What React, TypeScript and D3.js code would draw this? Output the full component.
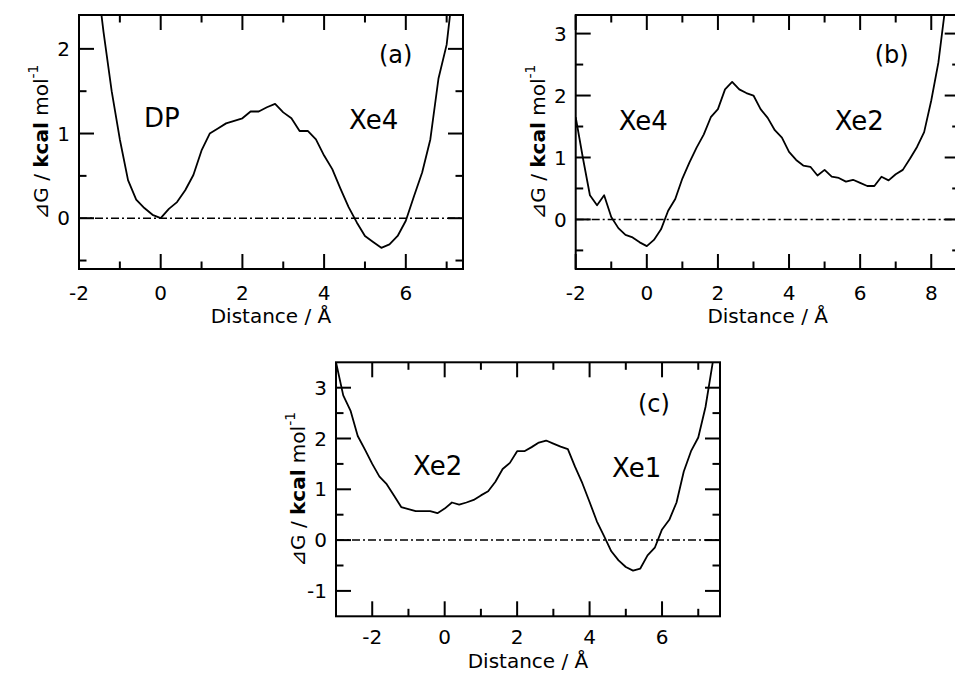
import * as d3 from "d3";
import React from "react";

// panel (a): DP -> Xe4
const distA = [-1.6, -1.4, -1.2, -1.0, -0.8, -0.6, -0.4, -0.2, 0.0, 0.2, 0.4, 0.6, 0.8, 1.0, 1.2, 1.4, 1.6, 1.8, 2.0, 2.2, 2.4, 2.6, 2.8, 3.0, 3.2, 3.4, 3.6, 3.8, 4.0, 4.2, 4.4, 4.6, 4.8, 5.0, 5.2, 5.4, 5.6, 5.8, 6.0, 6.2, 6.4, 6.6, 6.8, 7.0, 7.2];
const dgA = [3.0, 2.2, 1.5, 0.93, 0.45, 0.22, 0.12, 0.04, 0.0, 0.11, 0.19, 0.33, 0.51, 0.8, 1.0, 1.06, 1.12, 1.15, 1.18, 1.26, 1.26, 1.31, 1.35, 1.25, 1.18, 1.03, 1.03, 0.93, 0.74, 0.58, 0.35, 0.13, -0.05, -0.21, -0.28, -0.35, -0.31, -0.21, -0.03, 0.26, 0.54, 0.93, 1.65, 2.05, 2.9];

// panel (b): Xe4 -> Xe2
const distB = [-2.0, -1.8, -1.6, -1.4, -1.2, -1.0, -0.8, -0.6, -0.4, -0.2, 0.0, 0.2, 0.4, 0.6, 0.8, 1.0, 1.2, 1.4, 1.6, 1.8, 2.0, 2.2, 2.4, 2.6, 2.8, 3.0, 3.2, 3.4, 3.6, 3.8, 4.0, 4.2, 4.4, 4.6, 4.8, 5.0, 5.2, 5.4, 5.6, 5.8, 6.0, 6.2, 6.4, 6.6, 6.8, 7.0, 7.2, 7.4, 7.6, 7.8, 8.0, 8.2, 8.4];
const dgB = [1.65, 1.0, 0.39, 0.23, 0.39, 0.04, -0.14, -0.25, -0.29, -0.37, -0.43, -0.33, -0.16, 0.14, 0.33, 0.66, 0.92, 1.16, 1.37, 1.65, 1.78, 2.1, 2.22, 2.1, 2.04, 2.0, 1.78, 1.64, 1.44, 1.32, 1.09, 0.96, 0.87, 0.85, 0.71, 0.8, 0.69, 0.67, 0.61, 0.64, 0.59, 0.54, 0.54, 0.69, 0.63, 0.73, 0.8, 0.98, 1.17, 1.41, 1.92, 2.53, 3.45];

// panel (c): Xe2 -> Xe1
const distC = [-3.0, -2.8, -2.6, -2.4, -2.2, -2.0, -1.8, -1.6, -1.4, -1.2, -1.0, -0.8, -0.6, -0.4, -0.2, 0.0, 0.2, 0.4, 0.6, 0.8, 1.0, 1.2, 1.4, 1.6, 1.8, 2.0, 2.2, 2.4, 2.6, 2.8, 3.0, 3.2, 3.4, 3.6, 3.8, 4.0, 4.2, 4.4, 4.6, 4.8, 5.0, 5.2, 5.4, 5.6, 5.8, 6.0, 6.2, 6.4, 6.6, 6.8, 7.0, 7.2, 7.4, 7.6];
const dgC = [3.5, 2.85, 2.55, 2.05, 1.78, 1.5, 1.25, 1.1, 0.88, 0.65, 0.61, 0.57, 0.57, 0.57, 0.53, 0.62, 0.74, 0.7, 0.74, 0.79, 0.88, 0.96, 1.15, 1.4, 1.52, 1.75, 1.75, 1.83, 1.92, 1.96, 1.9, 1.84, 1.79, 1.44, 1.12, 0.75, 0.37, 0.08, -0.22, -0.4, -0.53, -0.6, -0.56, -0.3, -0.15, 0.21, 0.4, 0.74, 1.35, 1.75, 2.02, 2.62, 3.5, 4.3];

const xTicksA = [-2, 0, 2, 4, 6];
const xMinorA = [-1, 1, 3, 5, 7];
const yTicksA = [0, 1, 2];
const yMinorA = [-0.5, 0.5, 1.5];

const xTicksB = [-2, 0, 2, 4, 6, 8];
const xMinorB = [-1, 1, 3, 5, 7];
const yTicksB = [0, 1, 2, 3];
const yMinorB = [-0.5, 0.5, 1.5, 2.5];

const xTicksC = [-2, 0, 2, 4, 6];
const xMinorC = [-3, -1, 1, 3, 5, 7];
const yTicksC = [-1, 0, 1, 2, 3];
const yMinorC = [-0.5, 0.5, 1.5, 2.5];

const font = "'DejaVu Sans', sans-serif";

type Label = { text: string; dx: number; dy: number; size: number };

function Panel({ id, left, top, w = 384, h = 254, tickGap = 31, titleGap = 54, xDomain, yDomain, xTicks, xMinor, yTicks, yMinor, dist, dg, labels }: any) {
  const x = d3.scaleLinear(xDomain, [0, w]);
  const y = d3.scaleLinear(yDomain, [h, 0]);
  const line = d3.line<number>((d, i) => x(dist[i]), (d) => y(d));
  const major = 15, minor = 7.5;
  const fmt = (t: number) => (t < 0 ? "-" + Math.abs(t) : String(t));
  return (
    <g transform={`translate(${left},${top})`}>
      <defs>
        <clipPath id={`clip-${id}`}>
          <rect x={0} y={0} width={w} height={h} />
        </clipPath>
      </defs>
      {/* zero line */}
      <line x1={0} x2={w} y1={y(0)} y2={y(0)} stroke="#000" strokeWidth={1.5} strokeDasharray="8,3,2,3" />
      <path d={line(dg) as string} fill="none" stroke="#000" strokeWidth={1.8} strokeLinejoin="round" clipPath={`url(#clip-${id})`} />
      <rect x={0} y={0} width={w} height={h} fill="none" stroke="#000" strokeWidth={2} />
      <g stroke="#000" strokeWidth={2}>
        {xTicks.map((t: number) => (
          <g key={"xM" + t}>
            <line x1={x(t)} x2={x(t)} y1={h} y2={h - major} />
            <line x1={x(t)} x2={x(t)} y1={0} y2={major} />
          </g>
        ))}
        {xMinor.map((t: number) => (
          <g key={"xm" + t}>
            <line x1={x(t)} x2={x(t)} y1={h} y2={h - minor} />
            <line x1={x(t)} x2={x(t)} y1={0} y2={minor} />
          </g>
        ))}
        {yTicks.map((t: number) => (
          <g key={"yM" + t}>
            <line x1={0} x2={major} y1={y(t)} y2={y(t)} />
            <line x1={w} x2={w - major} y1={y(t)} y2={y(t)} />
          </g>
        ))}
        {yMinor.map((t: number) => (
          <g key={"ym" + t}>
            <line x1={0} x2={minor} y1={y(t)} y2={y(t)} />
            <line x1={w} x2={w - minor} y1={y(t)} y2={y(t)} />
          </g>
        ))}
      </g>
      <g fontFamily={font} fontSize={20} fill="#000">
        {xTicks.map((t: number) => (
          <text key={"xl" + t} x={x(t)} y={h + tickGap} textAnchor="middle">{fmt(t)}</text>
        ))}
        {yTicks.map((t: number) => (
          <text key={"yl" + t} x={-9} y={y(t)} dy="0.36em" textAnchor="end">{fmt(t)}</text>
        ))}
      </g>
      <text x={w / 2} y={h + titleGap} textAnchor="middle" fontFamily={font} fontSize={20}>Distance / Å</text>
      <text transform={`translate(-31,${h / 2}) rotate(-90)`} textAnchor="middle" fontFamily={font} fontSize={20}>
        <tspan>⊿G / </tspan>
        <tspan fontWeight="bold">kcal</tspan>
        <tspan> mol</tspan>
        <tspan fontSize={14} dy={-10}>-1</tspan>
      </text>
      {labels.map((l: Label) => (
        <text key={l.text} x={l.dx} y={l.dy} fontFamily={font} fontSize={l.size}>{l.text}</text>
      ))}
    </g>
  );
}

export default function App() {
  return (
    <svg width={955} height={673} style={{ position: "absolute", left: 0, top: 0, background: "#fff" }}>
      <rect width={955} height={673} fill="#fff" />
      <Panel id="a" left={79} top={15} xDomain={[-2, 7.4]} yDomain={[-0.6, 2.4]}
        xTicks={xTicksA} xMinor={xMinorA} yTicks={yTicksA} yMinor={yMinorA} dist={distA} dg={dgA}
        labels={[{ text: "DP", dx: 65, dy: 112, size: 26 }, { text: "Xe4", dx: 270, dy: 114, size: 26 }, { text: "(a)", dx: 300, dy: 48, size: 24 }]} />
      <Panel id="b" left={575.7} top={15} xDomain={[-2, 8.8]} yDomain={[-0.8, 3.3]}
        xTicks={xTicksB} xMinor={xMinorB} yTicks={yTicksB} yMinor={yMinorB} dist={distB} dg={dgB}
        labels={[{ text: "Xe4", dx: 43, dy: 115, size: 26 }, { text: "Xe2", dx: 259, dy: 115, size: 26 }, { text: "(b)", dx: 299, dy: 48, size: 24 }]} />
      <Panel id="c" left={336} top={362.3} tickGap={28} titleGap={52} xDomain={[-3, 7.6]} yDomain={[-1.5, 3.5]}
        xTicks={xTicksC} xMinor={xMinorC} yTicks={yTicksC} yMinor={yMinorC} dist={distC} dg={dgC}
        labels={[{ text: "Xe2", dx: 77, dy: 113, size: 26 }, { text: "Xe1", dx: 276, dy: 115, size: 26 }, { text: "(c)", dx: 302, dy: 50, size: 24 }]} />
    </svg>
  );
}
